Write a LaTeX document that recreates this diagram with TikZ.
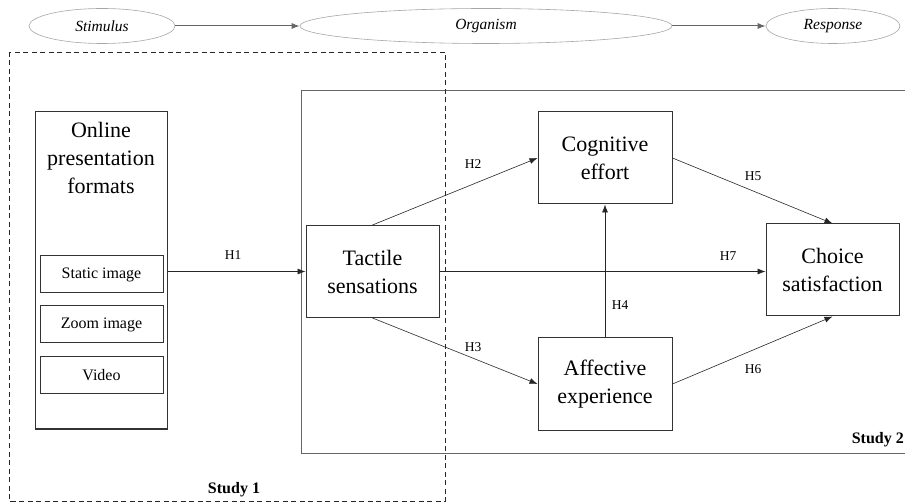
\documentclass[tikz,border=0pt]{standalone}
\usepackage{fontspec}
\setmainfont{Liberation Serif}
\usetikzlibrary{arrows.meta,shapes.geometric}
\tikzset{
  mainbox/.style={draw=black!80, line width=1pt, minimum width=133pt, minimum height=92pt, align=center, inner sep=0pt, font=\fontsize{22}{28}\selectfont},
  subbox/.style={draw=black!80, line width=1pt, minimum width=123pt, minimum height=37pt, inner sep=0pt, font=\fontsize{16}{19}\selectfont},
  sor/.style={draw=black!35, ellipse, line width=0.6pt, minimum height=35pt, inner sep=0pt, font=\fontsize{15.5}{18}\selectfont\itshape},
  hyp/.style={-{Latex[length=8pt,width=6pt]}, draw=black!85, line width=0.6pt},
  sorarrow/.style={-{Latex[length=8pt,width=6pt]}, draw=black!60, line width=1pt},
  hlab/.style={font=\fontsize{13.5}{16}\selectfont, inner sep=0pt},
  studylab/.style={font=\fontsize{16}{19}\selectfont\bfseries, inner sep=0pt}
}
\begin{document}
\begin{tikzpicture}[x=1pt,y=-1pt]
\useasboundingbox (0,0) rectangle (905,502);
\clip (0,0) rectangle (905,502);

% S-O-R band
\node[sor, minimum width=146pt] (stim) at (102,26) {Stimulus};
\node[sor, minimum width=372pt] (org) at (486,26) {Organism};
\node[sor, minimum width=134pt] (resp) at (833,26) {Response};
\draw[sorarrow] (stim) -- (org);
\draw[sorarrow] (org) -- (resp);

% Study frames
\draw[black!60, line width=1pt] (301,91) rectangle (912,453);
\draw[black!85, line width=0.9pt, dash pattern=on 5pt off 3.5pt] (9,52) rectangle (445,501);
\node[studylab] (s1) at (234,490) {Study 1};
\node[studylab, anchor=east] (s2) at (904,440) {Study 2};

% Online presentation formats
\node[draw=black!80, line width=1pt, minimum width=132pt, minimum height=317pt, inner sep=0pt] (online) at (101,270.5) {};
\node[align=center, inner sep=0pt, font=\fontsize{22}{28}\selectfont] (onlinetxt) at (101,158) {Online\\presentation\\formats};
\node[subbox] (static) at (101.5,274.5) {Static image};
\node[subbox] (zoom) at (101.5,324.5) {Zoom image};
\node[subbox] (video) at (101.5,375.5) {Video};

% Constructs
\node[mainbox] (tact) at (372.5,271.5) {Tactile\\sensations};
\node[mainbox, minimum width=134pt] (cog) at (605,158) {Cognitive\\effort};
\node[mainbox, minimum width=134pt] (aff) at (605,384) {Affective\\experience};
\node[mainbox] (choice) at (832.5,270) {Choice\\satisfaction};

% Hypotheses
\draw[hyp] (online.east |- tact.west) -- (tact.west);
\draw[hyp] (tact.north) -- (cog.west);
\draw[hyp] (tact.south) -- (aff.west);
\draw[hyp] (aff.north) -- (cog.south);
\draw[hyp] (cog.east) -- (choice.north);
\draw[hyp] (aff.east) -- (choice.south);
\draw[hyp] (tact.east) -- (tact.east -| choice.west);

\node[hlab] (h1) at (233,255) {H1};
\node[hlab] (h2) at (473,164) {H2};
\node[hlab] (h3) at (473,347) {H3};
\node[hlab] (h4) at (620,305) {H4};
\node[hlab] (h5) at (753,176) {H5};
\node[hlab] (h6) at (753,369) {H6};
\node[hlab] (h7) at (728,256) {H7};
\end{tikzpicture}
\end{document}
